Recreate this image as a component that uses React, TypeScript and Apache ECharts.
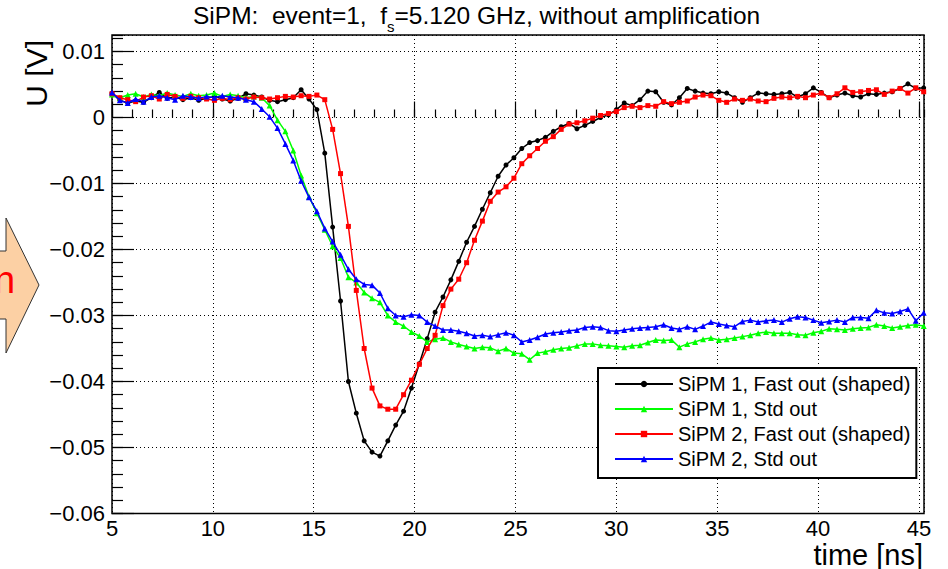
import React, { useEffect, useRef } from "react";
import * as echarts from "echarts";

// Sampling: 5.120 GHz, every second sample shown (dt = 2 / 5.12 ns)
const T0 = 5;
const DT = 2 / 5.12;

const titleMain1 = "SiPM:  event=1,  f";
const titleSub = "s";
const titleMain2 = "=5.120 GHz, without amplification";
const xAxisName = "time [ns]";
const yAxisName = "U [V]";

const seriesNames = [
  "SiPM 1, Fast out (shaped)",
  "SiPM 1, Std out",
  "SiPM 2, Fast out (shaped)",
  "SiPM 2, Std out",
];

const xTickLabels = [5, 10, 15, 20, 25, 30, 35, 40, 45];
const yTickLabels = [0.01, 0, -0.01, -0.02, -0.03, -0.04, -0.05, -0.06];

const sipm1Fast = [
  0.0037, 0.0026, 0.0022, 0.0025, 0.0023, 0.003, 0.0038, 0.0029, 0.0031, 0.0027,
  0.003, 0.0026, 0.0029, 0.0032, 0.0028, 0.0025, 0.0029, 0.0036, 0.0034, 0.0031,
  0.0026, 0.0024, 0.0027, 0.003, 0.0042, 0.0028, 0.0012, -0.0054, -0.0166, -0.0278,
  -0.04, -0.0448, -0.049, -0.0507, -0.0513, -0.049, -0.0466, -0.0445, -0.041, -0.0373,
  -0.0335, -0.0295, -0.0272, -0.0246, -0.0218, -0.0189, -0.0165, -0.0139, -0.0114, -0.0089,
  -0.0072, -0.0061, -0.0047, -0.0038, -0.0035, -0.003, -0.0021, -0.0014, -0.0009, -0.0017,
  -0.0012, -0.0006, 0.0, 0.0004, 0.0012, 0.0022, 0.0018, 0.0027, 0.004, 0.0039,
  0.0023, 0.0019, 0.003, 0.0044, 0.004, 0.0037, 0.0036, 0.0039, 0.0037, 0.003,
  0.0023, 0.003, 0.0037, 0.0036, 0.0035, 0.0036, 0.0038, 0.0031, 0.0036, 0.0045,
  0.0038, 0.003, 0.0034, 0.0037, 0.0033, 0.0031, 0.0036, 0.0035, 0.0037, 0.0039,
  0.0044, 0.0051, 0.0044, 0.0045,
];

const sipm1Std = [
  0.0035, 0.003, 0.0034, 0.0036, 0.0031, 0.0035, 0.0033, 0.0037, 0.0034, 0.0032,
  0.0036, 0.0033, 0.0034, 0.0037, 0.0032, 0.0035, 0.0033, 0.003, 0.0032, 0.003,
  0.0018, -0.0004, -0.0021, -0.005, -0.0088, -0.012, -0.0145, -0.017, -0.0195, -0.0213,
  -0.0242, -0.025, -0.0265, -0.0274, -0.028, -0.03, -0.031, -0.0316, -0.0325, -0.0331,
  -0.034, -0.0336, -0.0334, -0.034, -0.0344, -0.0347, -0.035, -0.0348, -0.0349, -0.0354,
  -0.035, -0.0357, -0.0358, -0.0367, -0.0357, -0.0355, -0.0352, -0.035, -0.0349, -0.0346,
  -0.0343, -0.0343, -0.0345, -0.0346, -0.0347, -0.0348, -0.0346, -0.0345, -0.0341, -0.0337,
  -0.0338, -0.0337, -0.0348, -0.0343, -0.034, -0.0336, -0.0334, -0.0337, -0.0336, -0.0334,
  -0.0332, -0.033, -0.0327, -0.0325, -0.0327, -0.0327, -0.0327, -0.0329, -0.033, -0.0326,
  -0.0324, -0.032, -0.0321, -0.0322, -0.032, -0.0319, -0.0318, -0.0314, -0.0316, -0.0319,
  -0.0317, -0.0315, -0.0314, -0.0316,
];

const sipm2Fast = [
  0.0036, 0.003, 0.0027, 0.0024, 0.0031, 0.0033, 0.0028, 0.0035, 0.0032, 0.0029,
  0.0032, 0.003, 0.0028, 0.0026, 0.0029, 0.0027, 0.003, 0.0028, 0.0031, 0.003,
  0.0028, 0.003, 0.0032, 0.0031, 0.0033, 0.0032, 0.0034, 0.0027, -0.0018, -0.0085,
  -0.0165, -0.0262, -0.035, -0.041, -0.0437, -0.0442, -0.0442, -0.042, -0.0398, -0.0374,
  -0.035, -0.033, -0.0285, -0.026, -0.0245, -0.022, -0.0186, -0.0157, -0.0127, -0.0113,
  -0.0105, -0.0092, -0.007, -0.0058, -0.0047, -0.0036, -0.0029, -0.0018, -0.001, -0.0008,
  -0.0005, -0.0001, 0.0003, 0.0006, 0.0009, 0.0015, 0.0017, 0.0015, 0.0018, 0.0017,
  0.0024, 0.0021, 0.0023, 0.0025, 0.0031, 0.0034, 0.0033, 0.0026, 0.0023, 0.0028,
  0.0026, 0.0028, 0.0025, 0.0024, 0.0029, 0.0031, 0.003, 0.0032, 0.003, 0.0034,
  0.0037, 0.003, 0.0036, 0.0045, 0.0038, 0.0039, 0.0041, 0.0042, 0.0035, 0.004,
  0.0044, 0.0037, 0.0045, 0.0039,
];

const sipm2Std = [
  0.0038, 0.0026, 0.0022, 0.0028, 0.0024, 0.0031, 0.0033, 0.003, 0.0027, 0.0033,
  0.0031, 0.0029, 0.0032, 0.003, 0.0033, 0.0031, 0.003, 0.0027, 0.0024, 0.0013,
  0.0001, -0.0016, -0.004, -0.0065, -0.0096, -0.0121, -0.0142, -0.0168, -0.0188, -0.0208,
  -0.023, -0.0245, -0.0253, -0.0254, -0.0266, -0.0289, -0.03, -0.0302, -0.0299, -0.03,
  -0.031, -0.0316, -0.0322, -0.0322, -0.0324, -0.0327, -0.0331, -0.033, -0.0332, -0.0329,
  -0.0326, -0.033, -0.034, -0.0337, -0.0333, -0.0328, -0.0326, -0.0325, -0.0323, -0.0322,
  -0.0318, -0.0317, -0.0318, -0.0323, -0.0324, -0.0322, -0.032, -0.0319, -0.0318, -0.0317,
  -0.0314, -0.0319, -0.0321, -0.0317, -0.0321, -0.0316, -0.031, -0.0313, -0.0315, -0.0317,
  -0.0309, -0.0307, -0.031, -0.0308, -0.0307, -0.031, -0.0305, -0.0302, -0.0303, -0.0307,
  -0.0311, -0.0309, -0.0307, -0.031, -0.0303, -0.0303, -0.0304, -0.0292, -0.0296, -0.0297,
  -0.0294, -0.029, -0.0308, -0.0296,
];

const colors = ["#000000", "#00ff00", "#ff0000", "#0000ff"];
const symbols = ["circle", "triangle", "rect", "triangle"];
const symbolSizes = [5, 6, 5, 6];

const FONT = "'Liberation Sans', Arial, Helvetica, sans-serif";

function toPairs(values: number[]) {
  return values.map((v, i) => [T0 + i * DT, v]);
}

export default function App() {
  const ref = useRef<HTMLDivElement>(null);

  useEffect(() => {
    if (!ref.current) return;
    const chart = echarts.init(ref.current, undefined, { renderer: "svg" });
    const allSeries = [sipm1Fast, sipm1Std, sipm2Fast, sipm2Std];

    const xFmt = (v: number) => {
      const r = Math.round(v * 1000) / 1000;
      return xTickLabels.includes(r) ? String(r) : "";
    };
    const yFmt = (v: number) => {
      const r = Math.round(v * 10000) / 10000;
      const hit = yTickLabels.find((t) => Math.abs(t - r) < 1e-7);
      if (hit === undefined) return "";
      if (hit === 0) return "0";
      return (hit < 0 ? "\u2212" : "") + Math.abs(hit).toFixed(2);
    };

    const option: any = {
      animation: false,
      backgroundColor: "#ffffff",
      title: {
        text: `{a|${titleMain1}}{s|${titleSub}}{a|${titleMain2}}`,
        left: 193,
        top: 0,
        padding: 0,
        textStyle: {
          fontWeight: "normal",
          rich: {
            a: { fontFamily: FONT, fontSize: 24.5, fontWeight: "normal", color: "#000", lineHeight: 30, verticalAlign: "top", padding: [3, 0, 0, 0] },
            s: { fontFamily: FONT, fontSize: 15, fontWeight: "normal", color: "#000", lineHeight: 15, verticalAlign: "top", padding: [19, 0, 0, 0] },
          },
        },
      },
      grid: {
        left: 112,
        right: 24,
        top: 35,
        bottom: 55.5,
        show: true,
        borderColor: "#000",
        borderWidth: 1.5,
        backgroundColor: "transparent",
      },
      legend: {
        orient: "vertical",
        left: 598,
        top: 368,
        data: seriesNames,
        itemWidth: 58,
        itemHeight: 8,
        itemGap: 5,
        padding: [6, 6, 9, 16],
        borderColor: "#000",
        borderWidth: 2,
        backgroundColor: "#fff",
        borderRadius: 0,
        textStyle: { fontFamily: FONT, fontSize: 20, color: "#000" },
      },
      xAxis: [
        {
          type: "value",
          min: 5,
          max: 45.25,
          interval: 5,
          position: "bottom",
          axisLine: { show: false },
          axisTick: { show: true, inside: true, length: 16, lineStyle: { color: "#000", width: 1.2 } },
          axisLabel: { show: true, formatter: xFmt, fontFamily: FONT, fontSize: 22, color: "#000", margin: 4, showMaxLabel: false },
          splitLine: { show: true, lineStyle: { color: "#000", type: [1, 3], width: 1 } },
        },
        {
          type: "value",
          min: 5,
          max: 45.25,
          interval: 1,
          position: "bottom",
          axisLine: { show: false },
          axisTick: { show: true, inside: true, length: 8, lineStyle: { color: "#000", width: 1.2 } },
          axisLabel: { show: false },
          splitLine: { show: false },
        },
      ],
      yAxis: [
        {
          type: "value",
          min: -0.06,
          max: 0.0125,
          interval: 0.01,
          position: "left",
          axisLine: { show: false },
          axisTick: { show: true, inside: true, length: 22, lineStyle: { color: "#000", width: 1.2 } },
          axisLabel: { show: true, formatter: yFmt, fontFamily: FONT, fontSize: 22, color: "#000", margin: 7, showMaxLabel: false },
          splitLine: { show: true, lineStyle: { color: "#000", type: [1, 3], width: 1 } },
        },
        {
          type: "value",
          min: -0.06,
          max: 0.0125,
          interval: 0.002,
          position: "left",
          axisLine: { show: false },
          axisTick: { show: true, inside: true, length: 11, lineStyle: { color: "#000", width: 1.2 } },
          axisLabel: { show: false },
          splitLine: { show: false },
        },
      ],
      graphic: [
        {
          type: "polygon",
          shape: { points: [[-3, 251], [6, 251], [6, 218], [39, 285], [6, 353], [6, 319], [-3, 319]] },
          style: { fill: "#fcd0a4", stroke: "#333", lineWidth: 1 },
          z: 10,
        },
        {
          type: "text",
          x: -6,
          y: 299,
          style: { text: "n", fill: "#ff0000", font: `38px ${FONT}`, verticalAlign: "bottom" },
          z: 11,
        },
        {
          type: "text",
          x: 923,
          y: 540,
          style: { text: xAxisName, fill: "#000", font: `29px ${FONT}`, align: "right", verticalAlign: "top" },
        },
        {
          type: "text",
          x: 36,
          y: 40,
          rotation: Math.PI / 2,
          style: { text: yAxisName, fill: "#000", font: `30px ${FONT}`, align: "right", verticalAlign: "middle" },
        },
      ],
      series: allSeries.map((vals, k) => ({
        name: seriesNames[k],
        type: "line",
        xAxisIndex: 0,
        yAxisIndex: 0,
        data: toPairs(vals),
        symbol: symbols[k],
        symbolSize: symbolSizes[k],
        showSymbol: true,
        color: colors[k],
        lineStyle: { color: colors[k], width: 1.5 },
        itemStyle: { color: colors[k] },
        emphasis: { disabled: true },
        z: 3 + k,
      })),
    };

    chart.setOption(option);
    return () => chart.dispose();
  }, []);

  return (
    <div
      ref={ref}
      style={{ position: "fixed", left: 0, top: 0, width: 948, height: 569, background: "#fff" }}
    />
  );
}
